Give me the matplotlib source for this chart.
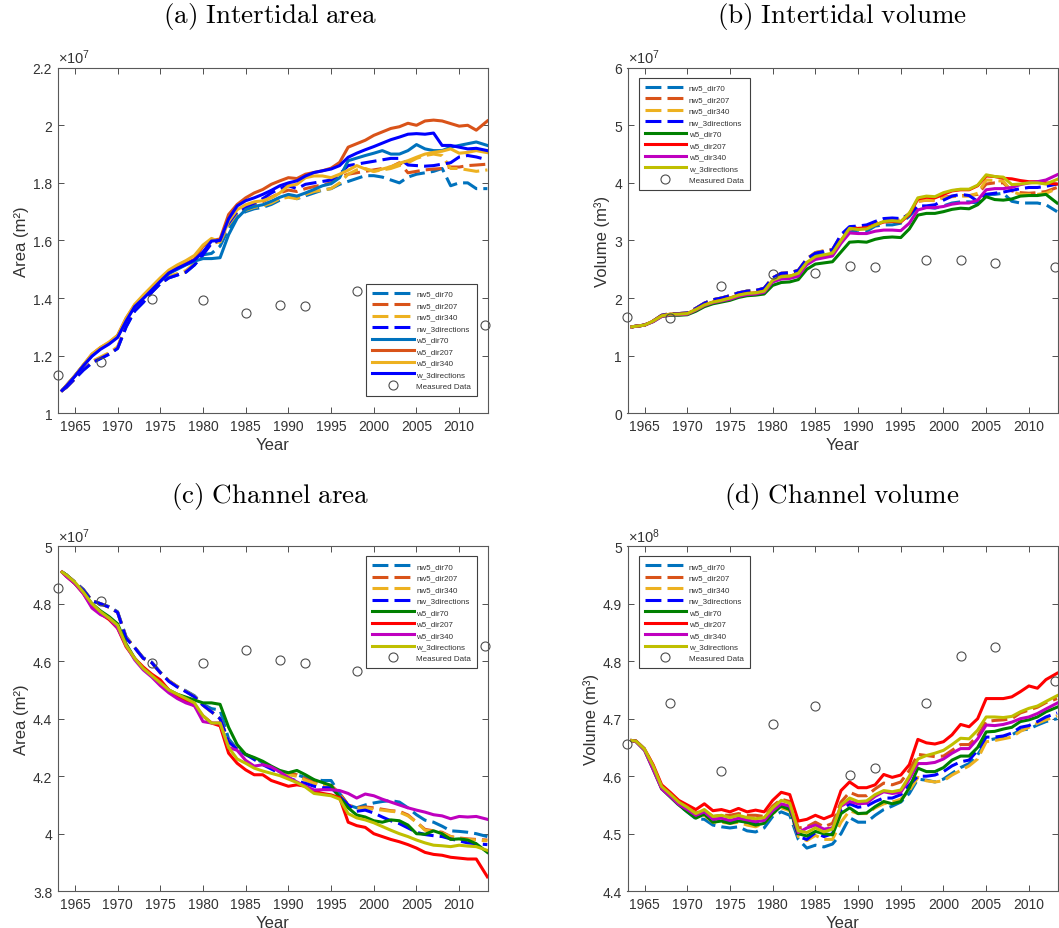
import numpy as np
import matplotlib
matplotlib.use('Agg')
from matplotlib import pyplot as plt
from matplotlib.ticker import FuncFormatter

plt.rcParams['font.family'] = ['Liberation Sans', 'DejaVu Sans']
plt.rcParams['mathtext.fontset'] = 'custom'
plt.rcParams['mathtext.rm'] = 'Liberation Sans'
plt.rcParams['mathtext.it'] = 'Liberation Sans:italic'

# model output, sampled yearly (first point 1963.5, last 2013.3)
years = np.array([1963.5] + list(range(1964, 2013)) + [2013.3])

names = ['nw5_dir70', 'nw5_dir207', 'nw5_dir340', 'nw_3directions',
         'w5_dir70', 'w5_dir207', 'w5_dir340', 'w_3directions']

# (a) intertidal area, x1e7 m2
a_nw70 = [1.079, 1.09, 1.12, 1.15, 1.175, 1.19, 1.205,
          1.225, 1.30, 1.355, 1.385, 1.42, 1.45, 1.47, 1.48, 1.49, 1.515,
          1.55, 1.555, 1.58, 1.64, 1.685, 1.70, 1.71, 1.715, 1.725, 1.74,
          1.755, 1.745, 1.755, 1.765, 1.775, 1.78, 1.795, 1.805, 1.815, 1.825,
          1.825, 1.82, 1.81, 1.80, 1.82, 1.83, 1.835, 1.84, 1.85, 1.79,
          1.80, 1.80, 1.78, 1.78]
a_nw207 = [1.079, 1.09, 1.12, 1.152, 1.178, 1.192, 1.207,
           1.228, 1.305, 1.36, 1.388, 1.422, 1.452, 1.472, 1.482, 1.492, 1.518,
           1.553, 1.592, 1.60, 1.66, 1.70, 1.712, 1.725, 1.735, 1.75, 1.765,
           1.775, 1.77, 1.78, 1.787, 1.793, 1.80, 1.82, 1.83, 1.835, 1.84,
           1.845, 1.85, 1.855, 1.87, 1.835, 1.84, 1.845, 1.848, 1.85, 1.855,
           1.855, 1.86, 1.862, 1.865]
a_nw340 = [1.079, 1.09, 1.122, 1.153, 1.18, 1.195, 1.21,
           1.23, 1.305, 1.36, 1.39, 1.425, 1.455, 1.475, 1.485, 1.495, 1.52,
           1.555, 1.59, 1.595, 1.655, 1.695, 1.705, 1.715, 1.72, 1.73, 1.745,
           1.75, 1.745, 1.76, 1.77, 1.775, 1.78, 1.80, 1.83, 1.845, 1.85,
           1.84, 1.845, 1.85, 1.86, 1.87, 1.885, 1.895, 1.90, 1.895, 1.85,
           1.85, 1.845, 1.84, 1.845]
a_nw3 = [1.079, 1.09, 1.12, 1.15, 1.175, 1.19, 1.205,
         1.225, 1.30, 1.355, 1.385, 1.42, 1.45, 1.47, 1.48, 1.49, 1.515,
         1.55, 1.59, 1.60, 1.66, 1.70, 1.715, 1.73, 1.745, 1.765, 1.78,
         1.79, 1.78, 1.795, 1.80, 1.805, 1.81, 1.83, 1.86, 1.865, 1.87,
         1.875, 1.88, 1.885, 1.885, 1.862, 1.86, 1.858, 1.86, 1.865, 1.87,
         1.89, 1.895, 1.89, 1.88]
a_w70 = [1.079, 1.096, 1.13, 1.167, 1.20, 1.225, 1.243,
         1.267, 1.325, 1.372, 1.40, 1.43, 1.458, 1.485, 1.50, 1.515, 1.528,
         1.537, 1.537, 1.54, 1.62, 1.677, 1.707, 1.718, 1.724, 1.736, 1.75,
         1.76, 1.754, 1.765, 1.777, 1.79, 1.797, 1.818, 1.877, 1.886, 1.895,
         1.903, 1.912, 1.90, 1.90, 1.912, 1.933, 1.918, 1.912, 1.912, 1.924,
         1.93, 1.936, 1.942, 1.93]
a_w207 = [1.079, 1.096, 1.13, 1.167, 1.205, 1.228, 1.245,
          1.27, 1.33, 1.375, 1.405, 1.435, 1.465, 1.49, 1.505, 1.52, 1.535,
          1.58, 1.60, 1.605, 1.69, 1.725, 1.748, 1.765, 1.777, 1.795, 1.807,
          1.818, 1.815, 1.83, 1.836, 1.842, 1.851, 1.871, 1.924, 1.936, 1.948,
          1.965, 1.977, 1.989, 1.995, 2.007, 2.0, 2.015, 2.018, 2.015, 2.006,
          1.997, 2.0, 1.983, 2.015]
a_w340 = [1.079, 1.096, 1.13, 1.168, 1.205, 1.228, 1.247,
          1.27, 1.33, 1.378, 1.41, 1.44, 1.47, 1.497, 1.515, 1.53, 1.548,
          1.584, 1.607, 1.595, 1.666, 1.707, 1.724, 1.734, 1.738, 1.748, 1.765,
          1.79, 1.795, 1.818, 1.824, 1.824, 1.818, 1.83, 1.844, 1.86, 1.848,
          1.84, 1.848, 1.856, 1.868, 1.877, 1.889, 1.90, 1.906, 1.91, 1.918,
          1.903, 1.906, 1.912, 1.905]
a_w3 = [1.079, 1.094, 1.128, 1.165, 1.198, 1.222, 1.24,
        1.263, 1.32, 1.37, 1.398, 1.428, 1.458, 1.487, 1.503, 1.517, 1.532,
        1.56, 1.598, 1.60, 1.675, 1.72, 1.738, 1.748, 1.76, 1.774, 1.79,
        1.80, 1.807, 1.824, 1.836, 1.842, 1.848, 1.86, 1.889, 1.903, 1.915,
        1.926, 1.938, 1.95, 1.959, 1.969, 1.971, 1.969, 1.973, 1.93, 1.93,
        1.924, 1.918, 1.92, 1.912]

# (b) intertidal volume, x1e7 m3
b_nw70 = [1.50, 1.51, 1.53, 1.60, 1.70, 1.73, 1.73,
          1.74, 1.82, 1.91, 1.97, 2.00, 2.04, 2.09, 2.12, 2.13, 2.16,
          2.34, 2.42, 2.43, 2.47, 2.66, 2.76, 2.79, 2.82, 3.05, 3.14,
          3.18, 3.16, 3.25, 3.27, 3.27, 3.30, 3.42, 3.58, 3.58, 3.56,
          3.60, 3.65, 3.67, 3.67, 3.65, 3.80, 3.80, 3.82, 3.68, 3.65,
          3.65, 3.65, 3.62, 3.50]
b_nw207 = [1.50, 1.51, 1.53, 1.60, 1.70, 1.73, 1.73,
           1.74, 1.82, 1.91, 1.97, 2.00, 2.04, 2.09, 2.12, 2.13, 2.17,
           2.35, 2.43, 2.44, 2.48, 2.68, 2.79, 2.82, 2.84, 3.08, 3.22,
           3.22, 3.24, 3.30, 3.35, 3.36, 3.35, 3.47, 3.68, 3.70, 3.70,
           3.75, 3.77, 3.78, 3.78, 3.80, 3.98, 4.00, 4.00, 3.86, 3.83,
           3.82, 3.83, 3.85, 3.92]
b_nw340 = [1.50, 1.51, 1.53, 1.60, 1.70, 1.73, 1.73,
           1.74, 1.82, 1.91, 1.97, 2.00, 2.04, 2.09, 2.12, 2.13, 2.17,
           2.35, 2.43, 2.44, 2.48, 2.68, 2.79, 2.82, 2.84, 3.08, 3.21,
           3.21, 3.23, 3.30, 3.35, 3.36, 3.35, 3.47, 3.68, 3.70, 3.69,
           3.74, 3.76, 3.77, 3.77, 3.82, 4.05, 4.04, 4.03, 3.85, 3.80,
           3.80, 3.80, 3.82, 3.90]
b_nw3 = [1.50, 1.51, 1.53, 1.60, 1.70, 1.73, 1.73,
         1.74, 1.82, 1.91, 1.97, 2.00, 2.04, 2.09, 2.12, 2.13, 2.17,
         2.35, 2.43, 2.44, 2.48, 2.68, 2.78, 2.81, 2.84, 3.10, 3.24,
         3.25, 3.27, 3.33, 3.38, 3.39, 3.38, 3.45, 3.60, 3.60, 3.62,
         3.70, 3.77, 3.80, 3.78, 3.68, 3.80, 3.82, 3.84, 3.87, 3.90,
         3.92, 3.92, 3.94, 3.98]
b_w70 = [1.50, 1.51, 1.53, 1.59, 1.68, 1.70, 1.70,
         1.71, 1.77, 1.85, 1.90, 1.93, 1.96, 2.01, 2.04, 2.05, 2.07,
         2.22, 2.27, 2.28, 2.32, 2.50, 2.59, 2.61, 2.63, 2.80, 2.97,
         2.98, 2.97, 3.02, 3.05, 3.06, 3.05, 3.20, 3.44, 3.47, 3.47,
         3.50, 3.54, 3.56, 3.55, 3.62, 3.76, 3.71, 3.70, 3.72, 3.77,
         3.78, 3.78, 3.80, 3.65]
b_w207 = [1.50, 1.51, 1.53, 1.60, 1.69, 1.72, 1.72,
          1.73, 1.80, 1.88, 1.93, 1.96, 2.00, 2.05, 2.08, 2.09, 2.12,
          2.30, 2.37, 2.38, 2.42, 2.60, 2.70, 2.73, 2.76, 3.00, 3.20,
          3.21, 3.22, 3.27, 3.32, 3.33, 3.32, 3.45, 3.72, 3.75, 3.74,
          3.80, 3.86, 3.88, 3.88, 3.95, 4.12, 4.11, 4.08, 4.07, 4.04,
          4.02, 4.02, 4.00, 3.98]
b_w340 = [1.50, 1.51, 1.53, 1.59, 1.68, 1.71, 1.71,
          1.72, 1.79, 1.87, 1.92, 1.95, 1.98, 2.03, 2.06, 2.07, 2.10,
          2.28, 2.33, 2.34, 2.38, 2.58, 2.67, 2.70, 2.73, 2.95, 3.13,
          3.12, 3.12, 3.16, 3.18, 3.18, 3.17, 3.30, 3.53, 3.57, 3.57,
          3.59, 3.63, 3.65, 3.65, 3.70, 3.88, 3.90, 3.90, 3.92, 3.97,
          4.00, 4.02, 4.05, 4.14]
b_w3 = [1.50, 1.51, 1.53, 1.60, 1.69, 1.72, 1.72,
        1.73, 1.80, 1.88, 1.93, 1.96, 2.00, 2.05, 2.08, 2.09, 2.12,
        2.31, 2.37, 2.38, 2.43, 2.62, 2.72, 2.75, 2.78, 3.00, 3.21,
        3.19, 3.20, 3.27, 3.33, 3.34, 3.33, 3.47, 3.74, 3.77, 3.76,
        3.83, 3.87, 3.89, 3.89, 3.96, 4.14, 4.11, 4.10, 3.97, 3.98,
        4.00, 4.00, 3.98, 4.06]

# (c) channel area, x1e7 m2
c_nw70 = [4.91, 4.90, 4.875, 4.85, 4.81, 4.80, 4.79,
          4.772, 4.685, 4.648, 4.612, 4.597, 4.562, 4.532, 4.512, 4.497, 4.48,
          4.45, 4.435, 4.43, 4.33, 4.295, 4.275, 4.262, 4.248, 4.232, 4.215,
          4.205, 4.205, 4.195, 4.188, 4.185, 4.185, 4.14, 4.10, 4.09, 4.10,
          4.107, 4.112, 4.115, 4.11, 4.09, 4.066, 4.047, 4.04, 4.026, 4.01,
          4.008, 4.005, 4.0, 3.99]
c_nw207 = [4.91, 4.90, 4.875, 4.848, 4.81, 4.80, 4.788,
           4.77, 4.682, 4.648, 4.61, 4.595, 4.56, 4.532, 4.512, 4.495, 4.477,
           4.447, 4.424, 4.40, 4.32, 4.294, 4.276, 4.262, 4.248, 4.23, 4.215,
           4.21, 4.205, 4.19, 4.178, 4.17, 4.168, 4.14, 4.10, 4.09, 4.093,
           4.09, 4.085, 4.08, 4.078, 4.065, 4.04, 4.015, 4.01, 4.005, 3.99,
           3.985, 3.982, 3.98, 3.978]
c_nw340 = [4.91, 4.90, 4.875, 4.848, 4.81, 4.80, 4.788,
           4.77, 4.682, 4.648, 4.61, 4.595, 4.56, 4.532, 4.512, 4.495, 4.477,
           4.447, 4.424, 4.40, 4.32, 4.294, 4.276, 4.26, 4.245, 4.228, 4.212,
           4.205, 4.2, 4.186, 4.175, 4.168, 4.165, 4.135, 4.095, 4.088, 4.09,
           4.085, 4.082, 4.078, 4.075, 4.062, 4.04, 4.012, 4.008, 4.002, 3.99,
           3.982, 3.98, 3.978, 3.975]
c_nw3 = [4.91, 4.90, 4.875, 4.847, 4.81, 4.80, 4.788,
         4.77, 4.68, 4.647, 4.61, 4.595, 4.56, 4.53, 4.51, 4.494, 4.476,
         4.447, 4.424, 4.40, 4.32, 4.294, 4.276, 4.258, 4.24, 4.225, 4.21,
         4.194, 4.183, 4.175, 4.165, 4.16, 4.16, 4.13, 4.10, 4.078, 4.082,
         4.072, 4.058, 4.045, 4.035, 4.02, 4.005, 3.997, 3.993, 3.99, 3.982,
         3.975, 3.968, 3.965, 3.962]
c_w70 = [4.91, 4.90, 4.87, 4.84, 4.80, 4.775, 4.755,
         4.73, 4.66, 4.61, 4.575, 4.55, 4.525, 4.50, 4.485, 4.475, 4.465,
         4.455, 4.455, 4.45, 4.37, 4.31, 4.276, 4.265, 4.252, 4.235, 4.22,
         4.212, 4.22, 4.205, 4.188, 4.178, 4.168, 4.125, 4.09, 4.065, 4.058,
         4.045, 4.04, 4.048, 4.045, 4.03, 4.0, 3.998, 4.01, 4.0, 3.98,
         3.982, 3.978, 3.965, 3.935]
c_w207 = [4.91, 4.895, 4.87, 4.835, 4.79, 4.765, 4.745,
          4.715, 4.65, 4.61, 4.58, 4.555, 4.535, 4.50, 4.475, 4.462, 4.445,
          4.41, 4.385, 4.375, 4.28, 4.245, 4.222, 4.205, 4.205, 4.185, 4.175,
          4.165, 4.17, 4.165, 4.148, 4.14, 4.135, 4.125, 4.04, 4.028, 4.022,
          4.0, 3.99, 3.98, 3.972, 3.962, 3.95, 3.935, 3.928, 3.925, 3.918,
          3.915, 3.912, 3.912, 3.85]
c_w340 = [4.91, 4.895, 4.87, 4.835, 4.785, 4.762, 4.75,
          4.715, 4.655, 4.605, 4.57, 4.545, 4.515, 4.49, 4.47, 4.455, 4.445,
          4.39, 4.385, 4.385, 4.30, 4.29, 4.255, 4.235, 4.24, 4.232, 4.215,
          4.195, 4.18, 4.165, 4.152, 4.153, 4.153, 4.15, 4.14, 4.124, 4.138,
          4.132, 4.12, 4.11, 4.10, 4.09, 4.082, 4.075, 4.066, 4.062, 4.052,
          4.06, 4.058, 4.06, 4.05]
c_w3 = [4.91, 4.90, 4.875, 4.84, 4.80, 4.772, 4.75,
        4.725, 4.655, 4.61, 4.575, 4.55, 4.525, 4.50, 4.485, 4.47, 4.455,
        4.41, 4.385, 4.385, 4.30, 4.26, 4.245, 4.228, 4.218, 4.21, 4.202,
        4.19, 4.178, 4.162, 4.14, 4.136, 4.132, 4.12, 4.07, 4.055, 4.048,
        4.038, 4.025, 4.012, 4.0, 3.99, 3.978, 3.968, 3.96, 3.958, 3.955,
        3.96, 3.957, 3.955, 3.942]

# (d) channel volume, x1e8 m3
d_nw70 = [4.662, 4.661, 4.647, 4.615, 4.579, 4.565, 4.55,
          4.538, 4.526, 4.525, 4.515, 4.512, 4.51, 4.512, 4.505, 4.503, 4.51,
          4.53, 4.538, 4.532, 4.49, 4.475, 4.48, 4.477, 4.482, 4.50, 4.528,
          4.52, 4.52, 4.532, 4.542, 4.548, 4.555, 4.57, 4.595, 4.593, 4.59,
          4.595, 4.605, 4.615, 4.622, 4.637, 4.662, 4.665, 4.668, 4.672, 4.68,
          4.682, 4.689, 4.695, 4.70]
d_nw207 = [4.662, 4.661, 4.647, 4.618, 4.582, 4.569, 4.555,
           4.545, 4.536, 4.54, 4.53, 4.532, 4.532, 4.535, 4.532, 4.532, 4.53,
           4.548, 4.56, 4.556, 4.51, 4.512, 4.52, 4.512, 4.518, 4.555, 4.572,
           4.566, 4.566, 4.578, 4.588, 4.585, 4.59, 4.61, 4.638, 4.636, 4.634,
           4.635, 4.645, 4.655, 4.655, 4.67, 4.695, 4.697, 4.698, 4.70, 4.71,
           4.715, 4.72, 4.728, 4.735]
d_nw340 = [4.662, 4.661, 4.647, 4.615, 4.58, 4.566, 4.552,
           4.54, 4.53, 4.532, 4.52, 4.52, 4.518, 4.52, 4.515, 4.512, 4.518,
           4.535, 4.545, 4.54, 4.495, 4.488, 4.497, 4.49, 4.49, 4.52, 4.54,
           4.535, 4.535, 4.545, 4.552, 4.555, 4.56, 4.575, 4.598, 4.592, 4.59,
           4.592, 4.602, 4.61, 4.618, 4.63, 4.66, 4.662, 4.665, 4.668, 4.678,
           4.685, 4.692, 4.698, 4.705]
d_nw3 = [4.662, 4.661, 4.647, 4.615, 4.58, 4.566, 4.552,
         4.54, 4.53, 4.535, 4.522, 4.523, 4.52, 4.523, 4.52, 4.518, 4.52,
         4.537, 4.548, 4.545, 4.495, 4.49, 4.502, 4.495, 4.50, 4.54, 4.552,
         4.546, 4.548, 4.556, 4.562, 4.562, 4.568, 4.585, 4.60, 4.60, 4.602,
         4.608, 4.618, 4.625, 4.628, 4.645, 4.668, 4.668, 4.67, 4.675, 4.685,
         4.688, 4.695, 4.703, 4.71]
d_w70 = [4.662, 4.66, 4.645, 4.612, 4.578, 4.564, 4.55,
         4.538, 4.527, 4.534, 4.52, 4.522, 4.518, 4.522, 4.52, 4.515, 4.518,
         4.535, 4.548, 4.542, 4.50, 4.496, 4.504, 4.50, 4.498, 4.535, 4.545,
         4.535, 4.536, 4.547, 4.556, 4.552, 4.556, 4.58, 4.614, 4.608, 4.608,
         4.615, 4.628, 4.635, 4.635, 4.65, 4.677, 4.678, 4.682, 4.685, 4.695,
         4.698, 4.703, 4.712, 4.72]
d_w207 = [4.662, 4.661, 4.647, 4.62, 4.585, 4.572, 4.558,
          4.55, 4.542, 4.552, 4.54, 4.542, 4.538, 4.544, 4.538, 4.541, 4.538,
          4.558, 4.572, 4.568, 4.522, 4.525, 4.532, 4.526, 4.532, 4.575, 4.59,
          4.58, 4.58, 4.585, 4.603, 4.598, 4.602, 4.62, 4.664, 4.658, 4.656,
          4.66, 4.672, 4.69, 4.686, 4.70, 4.735, 4.735, 4.735, 4.738, 4.747,
          4.757, 4.753, 4.768, 4.779]
d_w340 = [4.662, 4.66, 4.645, 4.612, 4.578, 4.565, 4.551,
          4.542, 4.532, 4.538, 4.525, 4.527, 4.523, 4.527, 4.524, 4.521, 4.523,
          4.54, 4.552, 4.548, 4.502, 4.51, 4.515, 4.508, 4.51, 4.548, 4.556,
          4.552, 4.553, 4.565, 4.573, 4.57, 4.572, 4.595, 4.622, 4.622, 4.624,
          4.63, 4.64, 4.648, 4.648, 4.665, 4.689, 4.688, 4.69, 4.694, 4.70,
          4.703, 4.709, 4.717, 4.727]
d_w3 = [4.662, 4.661, 4.647, 4.618, 4.582, 4.569, 4.555,
        4.546, 4.535, 4.542, 4.53, 4.532, 4.528, 4.532, 4.528, 4.526, 4.528,
        4.545, 4.558, 4.553, 4.505, 4.502, 4.51, 4.503, 4.508, 4.55, 4.562,
        4.556, 4.557, 4.568, 4.575, 4.573, 4.576, 4.60, 4.63, 4.636, 4.64,
        4.645, 4.655, 4.666, 4.665, 4.68, 4.703, 4.703, 4.702, 4.704, 4.712,
        4.718, 4.722, 4.73, 4.74]

# measured data
meas_yr_area = [1963, 1968, 1974, 1980, 1985, 1989, 1992, 1998, 2013]
meas_yr_vol = [1963, 1968, 1974, 1980, 1985, 1989, 1992, 1998, 2002, 2006, 2013]
meas_a = [1.131, 1.178, 1.397, 1.392, 1.349, 1.375, 1.372, 1.423, 1.305]
meas_b = [1.67, 1.656, 2.21, 2.41, 2.43, 2.554, 2.537, 2.654, 2.666, 2.60, 2.54]
meas_c = [4.856, 4.81, 4.593, 4.595, 4.639, 4.605, 4.593, 4.565, 4.652]
meas_d = [4.656, 4.728, 4.609, 4.69, 4.722, 4.602, 4.614, 4.728, 4.809, 4.824, 4.766]

dash_colors = ['#0072BD', '#D95319', '#EDB120', '#0000FF']
solid_a = ['#0072BD', '#D95319', '#EDB120', '#0000FF']
solid_bcd = ['#008000', '#FF0000', '#BF00BF', '#BFBF00']

axcol = '0.2'
W, H = 1059.0, 929.0
AW, AH = 430.0, 345.5


def panel(ax, series, solid_colors, yticks, expo, ylabel, loc, anchor, mx, my):
    for i in range(4):
        ax.plot(years, series[i], color=dash_colors[i], lw=2.2,
                linestyle=(0, (5.2, 2.0)), label=names[i])
    for i in range(4):
        ax.plot(years, series[4 + i], color=solid_colors[i], lw=2.2,
                label=names[4 + i])
    ax.plot(mx, my, 'o', ms=6.5, mfc='none', mec='0.3', mew=0.8,
            label='Measured Data', clip_on=False)
    ax.set_xlim(1963, 2013.35)
    ax.set_ylim(yticks[0], yticks[-1])
    ax.set_xticks(range(1965, 2011, 5))
    ax.set_yticks(yticks)
    ax.yaxis.set_major_formatter(FuncFormatter(lambda v, p: '%g' % round(v, 3)))
    ax.tick_params(direction='in', top=True, right=True, length=4,
                   width=0.6, labelsize=10, colors=axcol, pad=4)
    for s in ax.spines.values():
        s.set_color('0.35')
        s.set_linewidth(0.8)
    ax.set_xlabel('Year', fontsize=12, color=axcol, labelpad=3)
    ax.set_ylabel(ylabel, fontsize=12, color=axcol, labelpad=3)
    ax.text(0.0, 1.004, r'$\times10^{%d}$' % expo, transform=ax.transAxes,
            ha='left', va='bottom', fontsize=10.5, color=axcol)
    leg = ax.legend(loc=loc, bbox_to_anchor=anchor, fontsize=5.8,
                    fancybox=False, framealpha=1, edgecolor='0.25',
                    handlelength=5.2, handletextpad=0.3, labelspacing=0.48,
                    borderaxespad=0.0, borderpad=0.75)
    leg.get_frame().set_linewidth(0.8)
    for t in leg.get_texts():
        t.set_color('0.2')


fig = plt.figure(figsize=(10.59, 9.29), dpi=100)
ax_a = fig.add_axes([57.8 / W, 1 - 414.2 / H, AW / W, AH / H])
ax_b = fig.add_axes([627.5 / W, 1 - 414.2 / H, AW / W, AH / H])
ax_c = fig.add_axes([57.8 / W, 1 - 892.2 / H, AW / W, 345 / H])
ax_d = fig.add_axes([627.5 / W, 1 - 892.2 / H, AW / W, 345 / H])

panel(ax_a, [a_nw70, a_nw207, a_nw340, a_nw3, a_w70, a_w207, a_w340, a_w3],
      solid_a, [1, 1.2, 1.4, 1.6, 1.8, 2.0, 2.2], 7, 'Area (m²)',
      'lower right', (1 - 10.8 / AW, 17.5 / AH), meas_yr_area, meas_a)
panel(ax_b, [b_nw70, b_nw207, b_nw340, b_nw3, b_w70, b_w207, b_w340, b_w3],
      solid_bcd, [0, 1, 2, 3, 4, 5, 6], 7, 'Volume (m³)',
      'upper left', (11 / AW, 1 - 10.3 / AH), meas_yr_vol, meas_b)
panel(ax_c, [c_nw70, c_nw207, c_nw340, c_nw3, c_w70, c_w207, c_w340, c_w3],
      solid_bcd, [3.8, 4.0, 4.2, 4.4, 4.6, 4.8, 5.0], 7, 'Area (m²)',
      'upper right', (1 - 10.8 / AW, 1 - 10.2 / AH), meas_yr_area, meas_c)
panel(ax_d, [d_nw70, d_nw207, d_nw340, d_nw3, d_w70, d_w207, d_w340, d_w3],
      solid_bcd, [4.4, 4.5, 4.6, 4.7, 4.8, 4.9, 5.0], 8, 'Volume (m³)',
      'upper left', (11 / AW, 1 - 10.2 / AH), meas_yr_vol, meas_d)

titles = [(270, 16, r'$\mathrm{(a)\ Intertidal\ area}$'),
          (842, 16, r'$\mathrm{(b)\ Intertidal\ volume}$'),
          (270, 497, r'$\mathrm{(c)\ Channel\ area}$'),
          (842, 497, r'$\mathrm{(d)\ Channel\ volume}$')]
for x, y, s in titles:
    fig.text(x / W, 1 - y / H, s, ha='center', va='center', fontsize=19.5,
             math_fontfamily='cm')

fig.savefig('out.png', dpi=100)
